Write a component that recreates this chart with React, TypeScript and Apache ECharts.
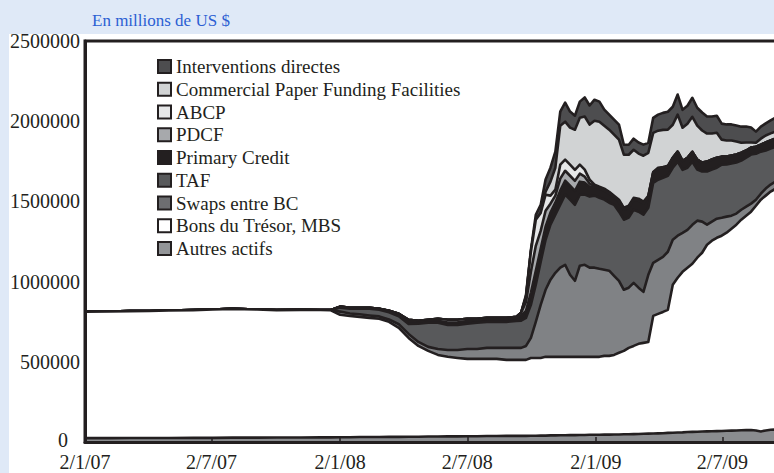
import React, { useEffect, useRef } from "react";
import * as echarts from "echarts";

// Dates of the observations (weekly from mid-September 2008)
const dates = [
  "2007-01-03", "2007-02-07", "2007-03-07", "2007-04-04", "2007-05-02", "2007-06-06", "2007-07-04",
  "2007-08-01", "2007-09-05", "2007-10-03", "2007-11-07", "2007-12-05", "2007-12-19",
  "2008-01-02", "2008-01-16", "2008-01-30", "2008-02-13", "2008-02-27", "2008-03-12", "2008-03-26",
  "2008-04-09", "2008-04-23", "2008-05-07", "2008-05-21", "2008-06-04", "2008-06-18", "2008-07-02",
  "2008-07-16", "2008-07-30", "2008-08-13", "2008-08-27", "2008-09-10",
  "2008-09-17", "2008-09-24", "2008-10-01", "2008-10-08", "2008-10-15", "2008-10-22", "2008-10-29",
  "2008-11-05", "2008-11-12", "2008-11-19", "2008-11-26", "2008-12-03", "2008-12-10", "2008-12-17",
  "2008-12-24", "2008-12-31", "2009-01-07", "2009-01-14", "2009-01-21", "2009-01-28", "2009-02-04",
  "2009-02-11", "2009-02-18", "2009-02-25", "2009-03-04", "2009-03-11", "2009-03-18", "2009-03-25",
  "2009-04-01", "2009-04-08", "2009-04-15", "2009-04-22", "2009-04-29", "2009-05-06", "2009-05-13",
  "2009-05-20", "2009-05-27", "2009-06-03", "2009-06-10", "2009-06-17", "2009-06-24", "2009-07-01",
  "2009-07-08", "2009-07-15", "2009-07-22", "2009-07-29", "2009-08-05", "2009-08-12", "2009-08-19",
  "2009-08-26", "2009-09-02", "2009-09-09", "2009-09-16", "2009-09-23",
];

// Values in billions of US $ (milliards); the axis shows millions
const autresActifs = [
  24, 24, 25, 25, 25, 26, 26, 27, 27, 28, 28, 29, 29,
  30, 30, 31, 31, 31, 32, 32, 33, 33, 34, 34, 35, 35, 36, 36, 37, 37, 38, 38,
  38, 38, 39, 39, 40, 40, 41, 41, 42, 42, 43, 43, 44, 44, 45, 45, 45, 46, 46, 47, 47, 48, 48, 49, 50, 51, 52,
  53, 54, 55, 57, 58, 59, 60, 62, 63, 64, 65, 66, 67, 68, 69, 70, 71, 72, 73, 74, 75, 72, 66, 72, 76, 78, 78,
];
const bonsTresorMBS = [
  788, 790, 791, 792, 795, 796, 800, 803, 799, 794, 796, 794, 793,
  763, 756, 749, 743, 737, 717, 680, 616, 566, 534, 509, 496, 489, 482, 482, 481, 481, 474, 474,
  474, 474, 485, 485, 484, 491, 490, 490, 489, 489, 488, 488, 487, 487, 486, 486, 486, 491, 491, 496, 509,
  520, 539, 550, 562, 567, 572, 733, 745, 756, 767, 922, 965, 1001, 1024, 1048, 1085, 1115, 1164, 1188,
  1205, 1217, 1235, 1259, 1283, 1313, 1337, 1361, 1401, 1445, 1464, 1485, 1501, 1520,
];
const swapsBC = [
  0, 0, 0, 0, 0, 0, 0, 0, 0, 0, 0, 0, 0,
  20, 15, 16, 15, 15, 15, 22, 25, 25, 25, 37, 43, 50, 62, 62, 69, 69, 75, 75,
  75, 87, 125, 225, 331, 418, 481, 524, 556, 574, 512, 474, 568, 574, 556, 556, 549, 537, 531, 493, 449,
  381, 375, 393, 350, 318, 418, 331, 337, 343, 362, 281, 262, 243, 237, 243, 231, 194, 125, 119, 119, 112,
  100, 81, 69, 62, 56, 50, 37, 37, 44, 44, 44, 44,
];
const taf = [
  0, 0, 0, 0, 0, 0, 0, 0, 0, 0, 0, 0, 0,
  25, 30, 35, 42, 42, 45, 50, 62, 113, 150, 163, 156, 156, 157, 163, 162, 162, 162, 168,
  169, 175, 206, 231, 268, 312, 343, 362, 393, 437, 468, 474, 443, 437, 443, 449, 443, 437, 424, 443, 431,
  437, 437, 456, 474, 481, 418, 499, 499, 493, 474, 449, 462, 393, 387, 393, 318, 312, 331, 325, 318,
  331, 325, 325, 318, 306, 306, 306, 287, 262, 237, 225, 218, 206,
];
const primaryCredit = [
  0, 0, 0, 0, 0, 0, 0, 0, 0, 0, 0, 0, 0,
  6, 5, 5, 5, 5, 9, 8, 12, 8, 10, 12, 15, 17, 17, 17, 18, 19, 19, 18,
  31, 44, 75, 87, 81, 81, 75, 75, 87, 87, 87, 87, 81, 75, 62, 56, 56, 56, 56, 50, 62,
  62, 62, 62, 69, 69, 69, 62, 69, 62, 56, 62, 62, 56, 62, 62, 62, 56, 62, 62, 62,
  50, 50, 50, 50, 50, 44, 44, 44, 44, 50, 50, 50, 56,
];
const pdcf = [
  0, 0, 0, 0, 0, 0, 0, 0, 0, 0, 0, 0, 0,
  0, 0, 0, 0, 0, 0, 7, 14, 10, 9, 13, 17, 15, 14, 8, 7, 6, 6, 7,
  19, 56, 131, 156, 112, 100, 56, 44, 75, 62, 62, 62, 50, 37, 19, 6, 6, 6, 6, 0, 6,
  6, 6, 6, 6, 6, 0, 0, 0, 0, 0, 0, 0, 0, 0, 0, 0, 0, 0, 0, 0, 0,
  0, 0, 0, 0, 0, 0, 0, 0, 0, 0, 0, 0, 0,
];
const abcp = [
  0, 0, 0, 0, 0, 0, 0, 0, 0, 0, 0, 0, 0,
  0, 0, 0, 0, 0, 0, 0, 0, 0, 0, 0, 0, 0, 0, 0, 0, 0, 0, 0,
  0, 31, 125, 162, 112, 100, 50, 37, 87, 69, 69, 69, 56, 44, 25, 6, 6, 6, 6, 6, 6,
  6, 6, 6, 6, 6, 6, 6, 6, 6, 6, 0, 0, 0, 0, 0, 0, 0, 0, 0, 0, 0, 0,
  0, 0, 0, 0, 0, 0, 0, 0, 0, 0, 0, 0, 0,
];
const cpff = [
  0, 0, 0, 0, 0, 0, 0, 0, 0, 0, 0, 0, 0,
  0, 0, 0, 0, 0, 0, 0, 0, 0, 0, 0, 0, 0, 0, 0, 0, 0, 0, 0,
  0, 0, 0, 0, 0, 19, 87, 137, 243, 237, 231, 250, 293, 331, 343, 399, 406, 393, 387, 381, 375,
  331, 318, 300, 281, 287, 268, 243, 231, 231, 225, 206, 231, 206, 212, 218, 212, 200, 175, 162, 156, 106,
  100, 94, 81, 62, 50, 31, 25, 37, 44, 44, 44, 44,
];
const interventionsDirectes = [
  0, 0, 0, 0, 0, 0, 0, 0, 0, 0, 0, 0, 0,
  0, 0, 0, 0, 0, 0, 0, 0, 0, 0, 0, 0, 0, 0, 0, 0, 0, 0, 0,
  0, 12, 12, 31, 50, 75, 87, 100, 87, 119, 100, 87, 100, 119, 119, 131, 125, 100, 94, 94, 94,
  62, 62, 69, 69, 69, 62, 94, 100, 106, 112, 112, 125, 112, 112, 119, 112, 112, 106, 106, 106, 100,
  100, 100, 100, 100, 100, 94, 69, 75, 75, 81, 87, 87,
];

const xTickDates = ["2007-01-02", "2007-07-02", "2008-01-02", "2008-07-02", "2009-01-02", "2009-07-02"];
const xMinDate = "2007-01-02";
const xMaxDate = "2009-10-01";
const yMax = 2500000;
const yStep = 500000;
const BILLION_TO_MILLION = 1000;

const FONT = '"Liberation Serif", "Times New Roman", serif';
const INK = "#231f20";

const seriesDefs = [
  { name: "Autres actifs", data: autresActifs, fill: "#8a8c8f", legend: "#939598" },
  { name: "Bons du Trésor, MBS", data: bonsTresorMBS, fill: "#ffffff", legend: "#ffffff" },
  { name: "Swaps entre BC", data: swapsBC, fill: "#808285", legend: "#6d6e71" },
  { name: "TAF", data: taf, fill: "#58595b", legend: "#58595b" },
  { name: "Primary Credit", data: primaryCredit, fill: "#231f20", legend: "#231f20" },
  { name: "PDCF", data: pdcf, fill: "#a7a9ac", legend: "#a7a9ac" },
  { name: "ABCP", data: abcp, fill: "#e6e7e8", legend: "#e6e7e8" },
  { name: "Commercial Paper Funding Facilities", data: cpff, fill: "#d1d3d4", legend: "#d1d3d4" },
  { name: "Interventions directes", data: interventionsDirectes, fill: "#4d4d4f", legend: "#4d4d4f" },
];

function ts(s: string): number {
  const [y, m, d] = s.split("-").map(Number);
  return Date.UTC(y, m - 1, d);
}

function fmtDate(v: number): string {
  const d = new Date(v);
  return `${d.getUTCDate()}/${d.getUTCMonth() + 1}/${String(d.getUTCFullYear()).slice(2)}`;
}

export default function App() {
  const ref = useRef<HTMLDivElement>(null);
  useEffect(() => {
    if (!ref.current) return;
    const chart = echarts.init(ref.current, null, { renderer: "svg" });
    const tickTs = xTickDates.map(ts);
    chart.setOption({
      animation: false,
      title: {
        text: "En millions de US $",
        left: 92,
        top: 12,
        padding: 0,
        textStyle: { fontFamily: FONT, fontSize: 17, fontWeight: "normal", color: "#2c5fd3" },
      },
      legend: {
        orient: "vertical",
        left: 157,
        top: 57,
        padding: 0,
        itemWidth: 13,
        itemHeight: 13,
        itemGap: 3.75,
        icon: "rect",
        selectedMode: false,
        textStyle: { fontFamily: FONT, fontSize: 19, color: INK, lineHeight: 19 },
        itemStyle: { borderColor: INK, borderWidth: 2 },
        data: seriesDefs
          .slice()
          .reverse()
          .map((s) => ({
            name: s.name,
            icon: "rect",
            itemStyle: { color: s.legend, borderColor: INK, borderWidth: 2 },
          })),
      },
      grid: {
        left: 85,
        top: 41,
        bottom: 31,
        width: 701,
        show: true,
        borderColor: INK,
        borderWidth: 3,
        backgroundColor: "transparent",
        containLabel: false,
        outerBoundsMode: "none",
      },
      xAxis: [
        {
          type: "time",
          position: "bottom",
          min: ts(xMinDate),
          max: ts(xMaxDate),
          z: 40,
          axisLine: { show: true, onZero: false, lineStyle: { color: INK, width: 3 } },
          axisTick: { show: false },
          axisLabel: { show: false },
          splitLine: { show: false },
          minorTick: { show: false },
        },
        {
          type: "value",
          position: "bottom",
          offset: 0,
          min: ts(xMinDate),
          max: ts(xMaxDate),
          z: 41,
          axisLine: { show: false, onZero: false },
          axisTick: {
            show: true,
            inside: true,
            length: 5,
            lineStyle: { color: INK, width: 1.5 },
            customValues: tickTs,
          },
          axisLabel: {
            customValues: tickTs,
            formatter: (v: number) => fmtDate(v),
            margin: 12,
            lineHeight: 16,
            fontFamily: FONT,
            fontSize: 20,
            color: INK,
            hideOverlap: false,
          },
          splitLine: { show: false },
          minorTick: { show: false },
        },
      ],
      yAxis: {
        type: "value",
        min: 0,
        max: yMax,
        interval: yStep,
        z: 40,
        axisLine: { show: true, lineStyle: { color: INK, width: 3 } },
        axisTick: { show: false },
        splitLine: { show: false },
        axisLabel: {
          margin: 5,
          lineHeight: 16,
          fontFamily: FONT,
          fontSize: 20,
          color: INK,
          formatter: (v: number) => (v === 0 ? "{z|0}" : String(v)),
          rich: {
            z: { fontFamily: FONT, fontSize: 20, lineHeight: 16, color: INK, padding: [0, 12, 5, 0] },
          },
        },
      },
      series: seriesDefs.map((s, i) => ({
        name: s.name,
        type: "line",
        xAxisIndex: 0,
        yAxisIndex: 0,
        stack: "total",
        symbol: "none",
        showSymbol: false,
        z: 20 - i,
        lineStyle: { color: INK, width: 2.6, join: "round" },
        areaStyle: { color: s.fill, opacity: 1 },
        itemStyle: { color: s.fill },
        emphasis: { disabled: true },
        data: dates.map((d, j) => [ts(d), s.data[j] * BILLION_TO_MILLION]),
      })),
    });
    return () => chart.dispose();
  }, []);
  return (
    <div
      style={{
        position: "fixed",
        left: 0,
        top: 0,
        width: 774,
        height: 473,
        background: "#dfe9f7",
        overflow: "hidden",
      }}
    >
      <div style={{ position: "absolute", left: 9, top: 34, right: 0, bottom: 0, background: "#ffffff" }} />
      <div ref={ref} style={{ position: "absolute", left: 0, top: 0, width: 774, height: 473 }} />
    </div>
  );
}
